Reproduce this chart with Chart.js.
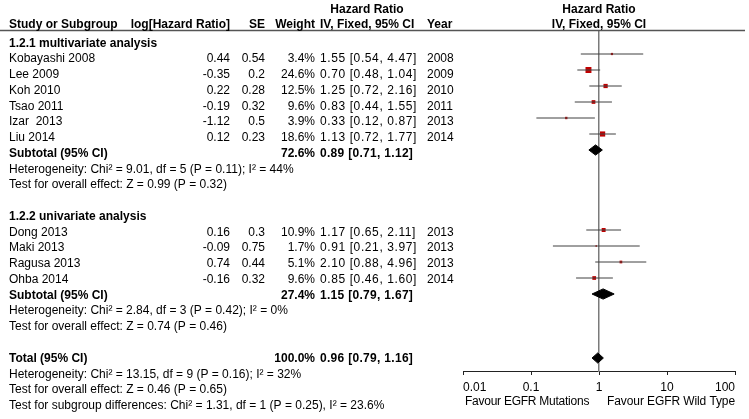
<!DOCTYPE html>
<html>
<head>
<meta charset="utf-8">
<title>Forest plot – EGFR hazard ratio</title>
<script src="https://cdn.jsdelivr.net/npm/chart.js@4.4.1/dist/chart.umd.min.js"></script>
<style>
  html, body { margin: 0; padding: 0; background: #fff; overflow: hidden; }
  canvas { display: block; }
</style>
</head>
<body>
<canvas id="forest" width="749" height="419"></canvas>
<script>
// ── DATA ────────────────────────────────────────────────────
const studies = ['Kobayashi 2008', 'Lee 2009', 'Koh 2010', 'Tsao 2011', 'Izar  2013', 'Liu 2014',
                 'Dong 2013', 'Maki 2013', 'Ragusa 2013', 'Ohba 2014'];
const logHR   = [0.44, -0.35, 0.22, -0.19, -1.12, 0.12, 0.16, -0.09, 0.74, -0.16];
const se      = [0.54, 0.2, 0.28, 0.32, 0.5, 0.23, 0.3, 0.75, 0.44, 0.32];
const weight  = [3.4, 24.6, 12.5, 9.6, 3.9, 18.6, 10.9, 1.7, 5.1, 9.6];
const hr      = [1.55, 0.70, 1.25, 0.83, 0.33, 1.13, 1.17, 0.91, 2.10, 0.85];
const hrLow   = [0.54, 0.48, 0.72, 0.44, 0.12, 0.72, 0.65, 0.21, 0.88, 0.46];
const hrHigh  = [4.47, 1.04, 2.16, 1.55, 0.87, 1.77, 2.11, 3.97, 4.96, 1.60];
const years   = [2008, 2009, 2010, 2011, 2013, 2014, 2013, 2013, 2013, 2014];
const studyRows = [1, 2, 3, 4, 5, 6, 12, 13, 14, 15];

const summaryLabels = ['Subtotal (95% CI)', 'Subtotal (95% CI)', 'Total (95% CI)'];
const summaryWeight = [72.6, 27.4, 100.0];
const summaryHR     = [0.89, 1.15, 0.96];
const summaryLow    = [0.71, 0.79, 0.79];
const summaryHigh   = [1.12, 1.67, 1.16];
const summaryRows   = [7, 16, 20];

const groupTitles = ['1.2.1 multivariate analysis', '1.2.2 univariate analysis'];
const groupRows   = [0, 11];

const notes = [
  'Heterogeneity: Chi\u00b2 = 9.01, df = 5 (P = 0.11); I\u00b2 = 44%',
  'Test for overall effect: Z = 0.99 (P = 0.32)',
  'Heterogeneity: Chi\u00b2 = 2.84, df = 3 (P = 0.42); I\u00b2 = 0%',
  'Test for overall effect: Z = 0.74 (P = 0.46)',
  'Heterogeneity: Chi\u00b2 = 13.15, df = 9 (P = 0.16); I\u00b2 = 32%',
  'Test for overall effect: Z = 0.46 (P = 0.65)',
  'Test for subgroup differences: Chi\u00b2 = 1.31, df = 1 (P = 0.25), I\u00b2 = 23.6%'
];
const noteRows = [8, 9, 17, 18, 21, 22, 23];

const axisTicks  = [0.01, 0.1, 1, 10, 100];
const favourLeft  = 'Favour EGFR Mutations';
const favourRight = 'Favour EGFR Wild Type';

// ── STYLE ───────────────────────────────────────────────────
const FONT = '12px "Liberation Sans", Arial, sans-serif';
const BOLD = 'bold ' + FONT;
const COL = { study: 9, logHR: 230, se: 265, weight: 315, ci: 320, year: 427, hrMid: 367 };

const fmtCI = (m, l, h) => `${m.toFixed(2)} [${l.toFixed(2)}, ${h.toFixed(2)}]`;

// ── DATASETS ────────────────────────────────────────────────
const ciLines = studies.map((s, i) => ({
  data: [{ x: hrLow[i], y: studyRows[i] }, { x: hrHigh[i], y: studyRows[i] }],
  showLine: true, borderColor: '#404040', borderWidth: 1, pointRadius: 0
}));

const squares = {
  data: studies.map((s, i) => ({ x: hr[i], y: studyRows[i] })),
  pointStyle: 'rect',
  pointRadius: weight.map(w => Math.sqrt(w) * 1.2 / Math.SQRT2),
  backgroundColor: '#c00000', borderWidth: 0
};

const diamonds = summaryHR.map((m, j) => {
  const r = summaryRows[j], h = 0.32;
  return {
    data: [{ x: summaryLow[j], y: r }, { x: m, y: r - h }, { x: summaryHigh[j], y: r },
           { x: m, y: r + h }, { x: summaryLow[j], y: r }],
    showLine: true, fill: 'shape', tension: 0,
    borderColor: '#000', backgroundColor: '#000', borderWidth: 1, pointRadius: 0
  };
});

// ── TABLE TEXT PLUGIN ───────────────────────────────────────
const forestTable = {
  id: 'forestTable',
  afterDraw(chart) {
    const { ctx, chartArea, scales: { x, y } } = chart;
    const rowY = r => y.getPixelForValue(r) + 8.3 - 0.24 * (r - 1);
    const put = (t, px, py, align, bold, spacing) => {
      ctx.font = bold ? BOLD : FONT;
      ctx.letterSpacing = spacing || '0px';
      ctx.textAlign = align;
      ctx.fillText(t, px, py);
    };
    ctx.save();
    ctx.fillStyle = '#000';
    ctx.textBaseline = 'alphabetic';

    // header underline
    ctx.strokeStyle = '#555';
    ctx.lineWidth = 1.5;
    ctx.beginPath();
    ctx.moveTo(0, chartArea.top - 0.5);
    ctx.lineTo(745, chartArea.top - 0.5);
    ctx.stroke();

    // headers
    const h1 = chartArea.top - 18.5, h2 = chartArea.top - 3;
    const x1 = x.getPixelForValue(1);
    put('Hazard Ratio', COL.hrMid, h1, 'center', true);
    put('Hazard Ratio', x1, h1, 'center', true);
    put('Study or Subgroup', COL.study, h2, 'left', true);
    put('log[Hazard Ratio]', COL.logHR, h2, 'right', true);
    put('SE', COL.se, h2, 'right', true);
    put('Weight', COL.weight, h2, 'right', true);
    put('IV, Fixed, 95% CI', COL.ci, h2, 'left', true);
    put('Year', COL.year, h2, 'left', true);
    put('IV, Fixed, 95% CI', x1, h2, 'center', true);

    groupTitles.forEach((t, g) => put(t, COL.study, rowY(groupRows[g]), 'left', true));

    studies.forEach((s, i) => {
      const py = rowY(studyRows[i]);
      put(s, COL.study, py, 'left');
      put(String(logHR[i]), COL.logHR, py, 'right');
      put(String(se[i]), COL.se, py, 'right');
      put(weight[i].toFixed(1) + '%', COL.weight, py, 'right');
      put(fmtCI(hr[i], hrLow[i], hrHigh[i]), COL.ci, py, 'left', false, '0.6px');
      put(String(years[i]), COL.year, py, 'left');
    });

    summaryLabels.forEach((t, j) => {
      const py = rowY(summaryRows[j]);
      put(t, COL.study, py, 'left', true);
      put(summaryWeight[j].toFixed(1) + '%', COL.weight, py, 'right', true);
      put(fmtCI(summaryHR[j], summaryLow[j], summaryHigh[j]), COL.ci, py, 'left', true, '0.3px');
    });

    notes.forEach((t, k) => put(t, COL.study, rowY(noteRows[k]), 'left'));

    // axis tick labels
    const ty = chartArea.bottom + 20;
    axisTicks.forEach((v, k) => {
      const align = k === 0 ? 'left' : (k === axisTicks.length - 1 ? 'right' : 'center');
      put(String(v), x.getPixelForValue(v), ty, align);
    });
    ctx.font = FONT;
    put(favourLeft, x.getPixelForValue(axisTicks[0]) + 2, chartArea.bottom + 33.5, 'left', false, '-0.25px');
    put(favourRight, x.getPixelForValue(axisTicks[axisTicks.length - 1]), chartArea.bottom + 33.5, 'right', false, '-0.1px');

    ctx.restore();
  }
};

// ── CHART ───────────────────────────────────────────────────
new Chart(document.getElementById('forest'), {
  type: 'scatter',
  data: { datasets: [...ciLines, squares, ...diamonds] },
  options: {
    responsive: false,
    animation: false,
    events: [],
    layout: { padding: { left: 463, right: 14, top: 31, bottom: 0 } },
    plugins: { legend: { display: false }, tooltip: { enabled: false } },
    scales: {
      x: {
        type: 'logarithmic', min: 0.01, max: 100, position: 'bottom',
        afterBuildTicks: s => { s.ticks = axisTicks.map(v => ({ value: v })); },
        afterFit: s => { s.height = 48; },
        ticks: { display: false },
        grid: { drawOnChartArea: false, drawTicks: true, tickLength: 4, color: '#222', lineWidth: 1 },
        border: { display: true, color: '#222', width: 1 }
      },
      y: {
        type: 'linear', reverse: true, min: -0.4375, max: 20.8125,
        position: { x: 1 },
        ticks: { display: false },
        grid: { display: false },
        border: { display: true, color: '#7a7a7a', width: 1.5 }
      }
    }
  },
  plugins: [forestTable]
});
</script>
</body>
</html>
